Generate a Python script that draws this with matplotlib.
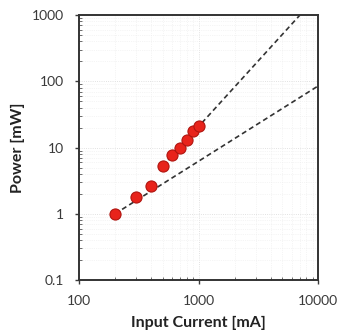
import matplotlib
matplotlib.use("Agg")
import matplotlib.pyplot as plt
import numpy as np

current_ma = [200, 300, 400, 500, 600, 700, 800, 900, 1000]
power_mw = [1.0, 1.8, 2.6, 5.3, 7.6, 10.0, 13.0, 17.5, 21.0]

fit1_x = [500, 7050]
fit1_y = [5.25, 1000]
fit2_x = [200, 10000]
fit2_y = [1.0, 85]

xticks = [100, 1000, 10000]
xticklabels = ["100", "1000", "10000"]
yticks = [0.1, 1, 10, 100, 1000]
yticklabels = ["0.1", "1", "10", "100", "1000"]

plt.rcParams['font.family'] = ['Lato', 'DejaVu Sans']

fig = plt.figure(figsize=(3.38, 3.35), dpi=100)
ax = fig.add_axes([0.234, 0.164, 0.707, 0.791])
ax.set_xscale('log')
ax.set_yscale('log')
ax.set_xlim(100, 10000)
ax.set_ylim(0.1, 1000)

ax.grid(True, which='major', color='#d8d8d8', linewidth=0.6, linestyle=':')
ax.grid(True, which='minor', color='#ececec', linewidth=0.5, linestyle=':')

ax.plot(fit1_x, fit1_y, linestyle=(0, (3, 2)), color='#333333', linewidth=1.2, zorder=2)
ax.plot(fit2_x, fit2_y, linestyle=(0, (3, 2)), color='#333333', linewidth=1.2, zorder=2)
ax.plot(current_ma, power_mw, linestyle='none', marker='o', markersize=8,
        markerfacecolor='#e8231b', markeredgecolor='#b01510', markeredgewidth=0.8, zorder=3)

ax.set_xticks(xticks)
ax.set_xticklabels(xticklabels)
ax.set_yticks(yticks)
ax.set_yticklabels(yticklabels)
ax.tick_params(which='major', direction='out', length=3, width=1, labelsize=10, colors='#3a3a3a')
ax.tick_params(axis='y', which='major', pad=8)
ax.tick_params(axis='x', which='major', pad=8)
ax.tick_params(which='minor', direction='in', length=2, width=0.6, color='#555555')
ax.xaxis.set_minor_formatter(matplotlib.ticker.NullFormatter())
ax.yaxis.set_minor_formatter(matplotlib.ticker.NullFormatter())

for s in ax.spines.values():
    s.set_linewidth(1.4)
    s.set_color('#333333')

ax.set_xlabel('Input Current [mA]', fontsize=11.5, fontweight='bold', color='#222222', labelpad=6)
ax.set_ylabel('Power [mW]', fontsize=11.5, fontweight='bold', color='#222222', labelpad=5)

fig.savefig('out.png', dpi=100)
